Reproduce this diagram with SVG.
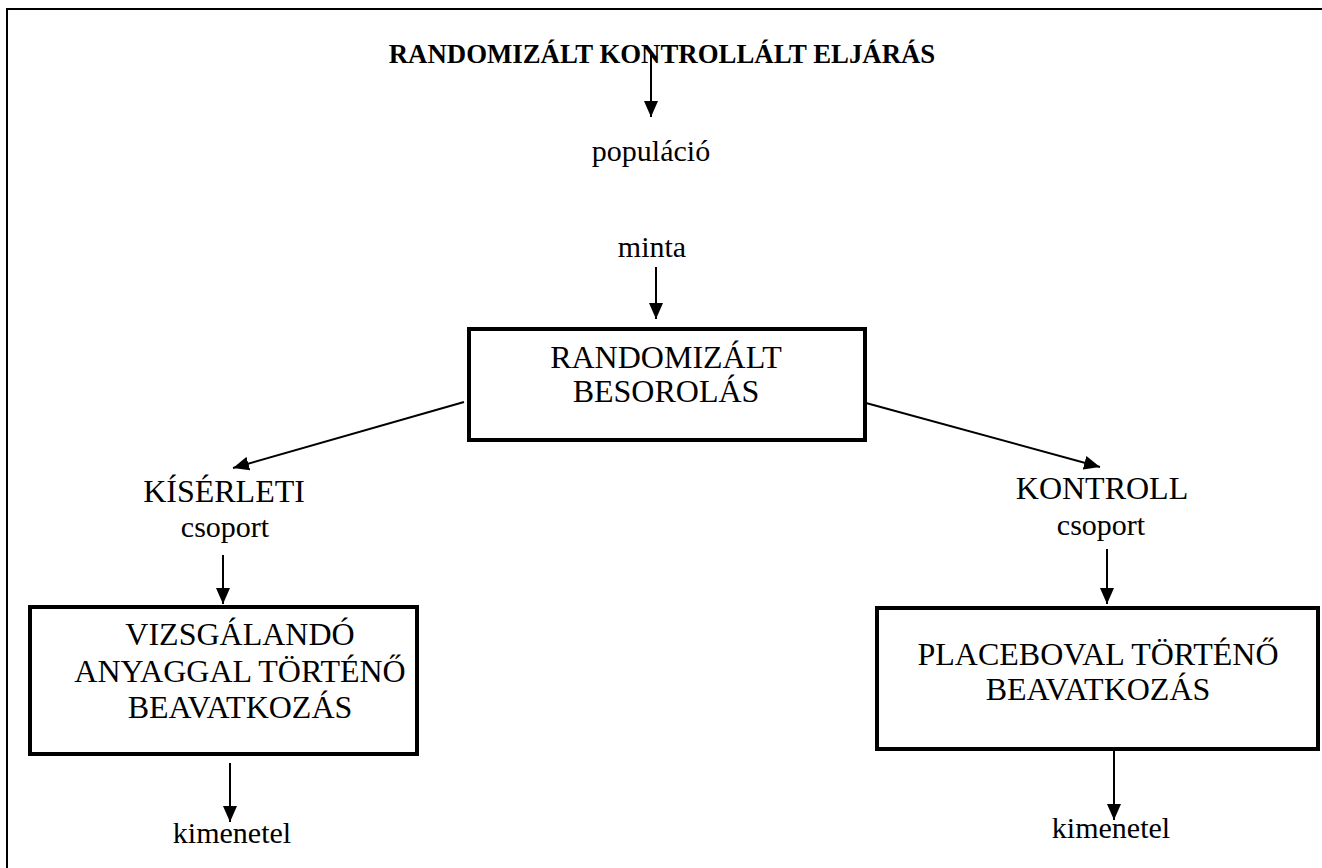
<svg xmlns="http://www.w3.org/2000/svg" width="1322" height="868" viewBox="0 0 1322 868">
<style>
  text { font-family: "Liberation Serif", "Times New Roman", serif; fill: #000; text-anchor: middle; }
  .title { font-size: 26.8px; font-weight: bold; }
  .lbl { font-size: 30px; }
  .cap { font-size: 32px; }
  .box { fill: #fff; stroke: #000; stroke-width: 4; }
  .conn { stroke: #000; stroke-width: 2; fill: none; marker-end: url(#arrow); }
  .frame { stroke: #000; stroke-width: 2; fill: none; }
</style>
<defs>
  <marker id="arrow" markerUnits="userSpaceOnUse" markerWidth="16" markerHeight="14" refX="16" refY="7" orient="auto">
    <path d="M0,0 L16,7 L0,14 z" fill="#000"/>
  </marker>
</defs>
<rect width="1322" height="868" fill="#fff"/>
<g id="frame">
  <path class="frame" d="M7,868 L7,9 L1322,9"/>
</g>
<g id="title"><text class="title" x="662" y="63">RANDOMIZÁLT KONTROLLÁLT ELJÁRÁS</text></g>
<g id="populacio"><text class="lbl" x="651" y="161">populáció</text></g>
<g id="minta"><text class="lbl" x="652" y="257">minta</text></g>
<g id="randomizalt">
  <rect class="box" x="469" y="329" width="396" height="111"/>
  <text class="cap" x="666" y="368">RANDOMIZÁLT</text>
  <text class="cap" x="666" y="402">BESOROLÁS</text>
</g>
<g id="kiserleti">
  <text class="cap" x="224" y="502">KÍSÉRLETI</text>
  <text class="lbl" x="225" y="537">csoport</text>
</g>
<g id="kontroll">
  <text class="cap" x="1102" y="499">KONTROLL</text>
  <text class="lbl" x="1101" y="535">csoport</text>
</g>
<g id="vizsgalando">
  <rect class="box" x="30" y="607" width="387" height="147"/>
  <text class="cap" x="240" y="645">VIZSGÁLANDÓ</text>
  <text class="cap" x="240" y="682">ANYAGGAL TÖRTÉNŐ</text>
  <text class="cap" x="240" y="718">BEAVATKOZÁS</text>
</g>
<g id="placebo">
  <rect class="box" x="877" y="608" width="441" height="141"/>
  <text class="cap" x="1098" y="665">PLACEBOVAL TÖRTÉNŐ</text>
  <text class="cap" x="1098" y="700">BEAVATKOZÁS</text>
</g>
<g id="kimenetel-left"><text class="lbl" x="232" y="843">kimenetel</text></g>
<g id="kimenetel-right"><text class="lbl" x="1111" y="838">kimenetel</text></g>
<g id="connectors">
  <line class="conn" x1="651" y1="55" x2="651" y2="117"/>
  <line class="conn" x1="656" y1="267" x2="656" y2="319"/>
  <line class="conn" x1="464" y1="402" x2="233" y2="468"/>
  <line class="conn" x1="866" y1="403" x2="1100" y2="467"/>
  <line class="conn" x1="223" y1="555" x2="223" y2="604"/>
  <line class="conn" x1="1107" y1="549" x2="1107" y2="604"/>
  <line class="conn" x1="230" y1="763" x2="230" y2="822"/>
  <line class="conn" x1="1114" y1="747" x2="1114" y2="820"/>
</g>
</svg>
